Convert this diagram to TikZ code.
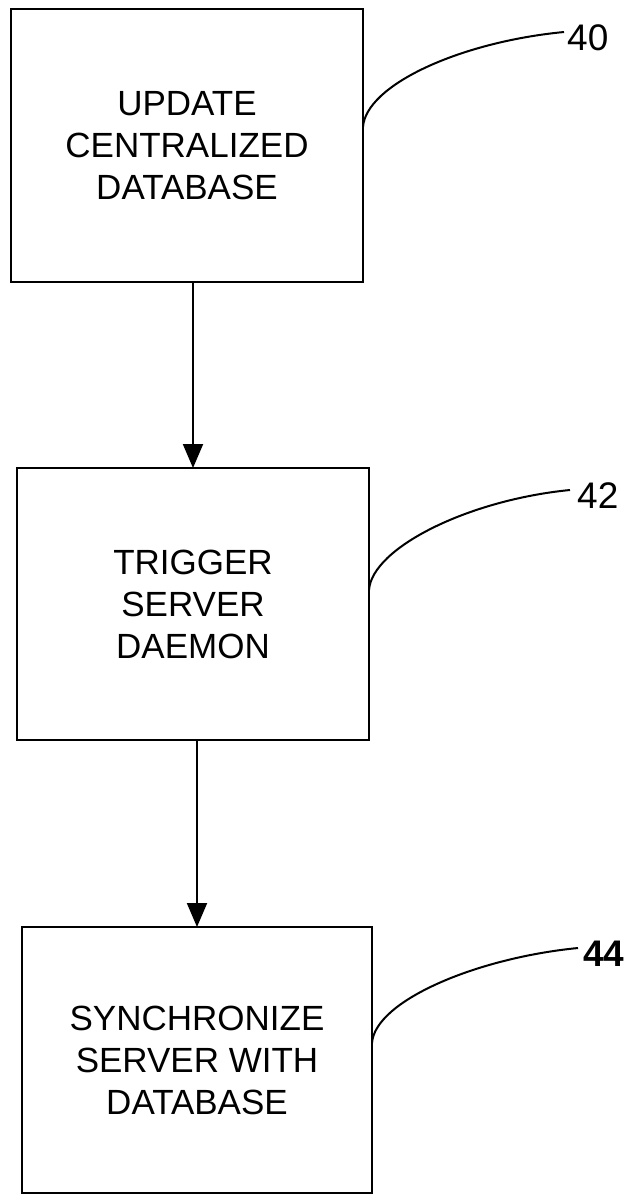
\documentclass[tikz,border=0pt]{standalone}
\usepackage{fontspec}
\setmainfont{Liberation Sans}
\usetikzlibrary{arrows.meta,calc}
\begin{document}
\begin{tikzpicture}[x=1pt,y=-1pt,
  stepbox/.style={draw, line width=2pt, outer sep=0pt, inner sep=0pt, align=center,
    font=\fontsize{35}{42}\selectfont},
  flow/.style={line width=2pt, -{Triangle[width=20pt,length=24pt]}},
  leader/.style={line width=2pt},
  reflabel/.style={font=\fontsize{37}{40}\selectfont, anchor=west, inner sep=0pt}]
\useasboundingbox (0,0) rectangle (626,1197);
\node[stepbox, minimum width=352pt, minimum height=273pt] (b1) at (187,145.5)
  {UPDATE\\CENTRALIZED\\DATABASE};
\node[stepbox, minimum width=352pt, minimum height=272pt] (b2) at (193,604)
  {TRIGGER\\SERVER\\DAEMON};
\node[stepbox, minimum width=350pt, minimum height=266pt] (b3) at (197,1060)
  {SYNCHRONIZE\\SERVER WITH\\DATABASE};
\draw[flow] (b1.south -| b2.north) -- (b2.north);
\draw[flow] (b2.south -| b3.north) -- (b3.north);
\coordinate (e40) at (564,32);
\coordinate (e42) at (570,490);
\coordinate (e44) at (578,948);
\node[reflabel] (n40) at (567,38) {40};
\node[reflabel] (n42) at (577,496) {42};
\node[reflabel] (n44) at (583,954) {\bfseries 44};
\draw[leader] ([yshift=18.5pt]b1.east) .. controls +(3,-42) and (460,42) .. (e40);
\draw[leader] ([yshift=14pt]b2.east) .. controls +(3,-42) and (468,500) .. (e42);
\draw[leader] ([yshift=17pt]b3.east) .. controls +(3,-42) and (476,958) .. (e44);
\end{tikzpicture}
\end{document}
